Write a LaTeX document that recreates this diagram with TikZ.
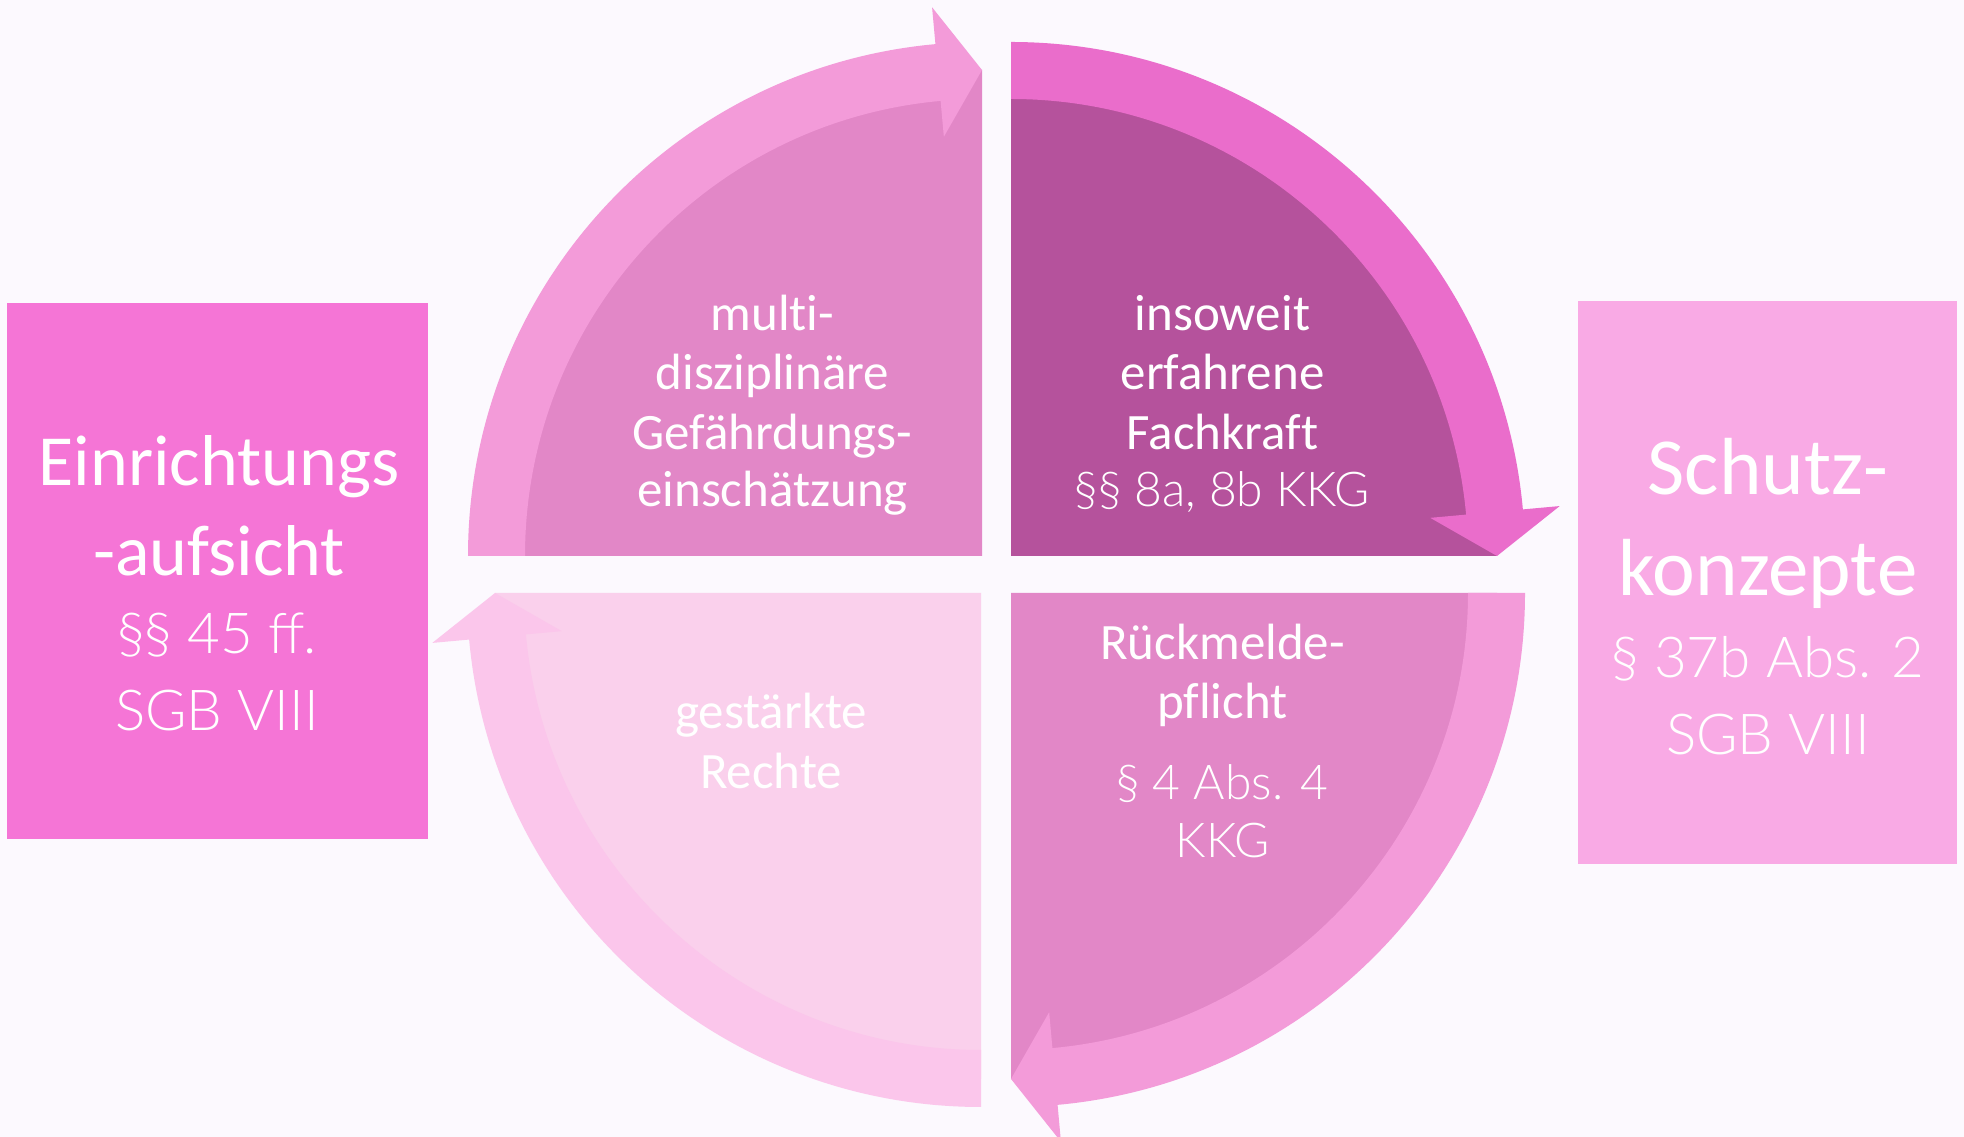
\documentclass[tikz,border=0pt]{standalone}
\usepackage{fontspec}
\setmainfont{Carlito}[Ligatures={NoCommon}]
\newfontfamily\lightfont{Lato Light}
\definecolor{bg}{HTML}{FCF9FE}
\definecolor{qA}{HTML}{E287C7}
\definecolor{arA}{HTML}{F39BD9}
\definecolor{qB}{HTML}{B5529C}
\definecolor{arB}{HTML}{EA6DCB}
\definecolor{qC}{HTML}{FAD0EC}
\definecolor{arC}{HTML}{FBC6EB}
\definecolor{boxL}{HTML}{F575D6}
\definecolor{boxR}{HTML}{F9AAE5}
\tikzset{
  txt/.style={text=white, inner sep=0pt, anchor=base},
  reg/.style={txt, font=\fontsize{51}{59}\selectfont},
  lgt/.style={txt, font=\lightfont\fontsize{48}{59}\selectfont},
  bigL/.style={txt, font=\fontsize{72}{90}\selectfont},
  bigR/.style={txt, font=\fontsize{81}{101}\selectfont},
  boxsub/.style={txt, font=\lightfont\fontsize{56.5}{77}\selectfont},
}
\begin{document}
\begin{tikzpicture}[x=1pt,y=1pt]
\useasboundingbox (0,0) rectangle (1964,1137);
\clip (0,0) rectangle (1964,1137);
\fill[bg] (0,0) rectangle (1964,1137);
% corners
\coordinate (c1) at (982,581);
\coordinate (c2) at (1011,581);
\coordinate (c3) at (981,544);
\coordinate (c4) at (1011,544);
% quadrants
\begin{scope}[shift={(c1)}]
  \fill[qA] (0,0) -- (180:486pt) arc[start angle=180,end angle=90,radius=486pt] -- cycle;
  \fill[arA] (180:514pt) arc[start angle=180,end angle=95.2,radius=514pt] -- (95.2:551pt) -- (90:486pt) -- (95.2:421pt) -- (95.2:457pt) arc[start angle=95.2,end angle=180,radius=457pt] -- cycle;
\end{scope}
\begin{scope}[shift={(c2)}]
  \fill[qB] (0,0) -- (90:486pt) arc[start angle=90,end angle=0,radius=486pt] -- cycle;
  \fill[arB] (90:514pt) arc[start angle=90,end angle=5.2,radius=514pt] -- (5.2:551pt) -- (0:486pt) -- (5.2:421pt) -- (5.2:457pt) arc[start angle=5.2,end angle=90,radius=457pt] -- cycle;
\end{scope}
\begin{scope}[shift={(c4)}]
  \fill[qA] (0,0) -- (0:486pt) arc[start angle=0,end angle=-90,radius=486pt] -- cycle;
  \fill[arA] (0:514pt) arc[start angle=0,end angle=-84.8,radius=514pt] -- (-84.8:551pt) -- (-90:486pt) -- (-84.8:421pt) -- (-84.8:457pt) arc[start angle=-84.8,end angle=0,radius=457pt] -- cycle;
\end{scope}
\begin{scope}[shift={(c3)}]
  \fill[qC] (0,0) -- (270:486pt) arc[start angle=270,end angle=180,radius=486pt] -- cycle;
  \fill[arC] (270:514pt) arc[start angle=270,end angle=185.2,radius=514pt] -- (185.2:551pt) -- (180:486pt) -- (185.2:421pt) -- (185.2:457pt) arc[start angle=185.2,end angle=270,radius=457pt] -- cycle;
\end{scope}
% side boxes
\fill[boxL] (7,298) rectangle (428,834);
\fill[boxR] (1578,273) rectangle (1957,836);
% texts TL
\node[reg] (tl1) at (772.5,806) {multi-};
\node[reg] (tl2) at (772.5,747) {disziplinäre};
\node[reg] (tl3) at (772.5,687.5) {Gefährdungs-};
\node[reg] (tl4) at (772.5,630) {einschätzung};
% TR
\node[reg] (tr1) at (1222.5,806) {insoweit};
\node[reg] (tr2) at (1222.5,747) {erfahrene};
\node[reg] (tr3) at (1222.5,687.5) {Fachkraft};
\node[lgt] (tr4) at (1222.5,630) {§§ 8a, 8b KKG};
% BL
\node[reg] (bl1) at (771,408) {gestärkte};
\node[reg] (bl2) at (771,348) {Rechte};
% BR
\node[reg] (br1) at (1222.5,477) {Rückmelde-};
\node[reg] (br2) at (1222.5,418) {pflicht};
\node[lgt] (br3) at (1222.5,337) {§ 4 Abs. 4};
\node[lgt] (br4) at (1222.5,279) {KKG};
% left box
\node[bigL] (l1) at (219,651) {Einrichtungs};
\node[bigL] (l2) at (219,561) {-aufsicht};
\node[boxsub] (l3) at (217,483) {§§ 45 ff.};
\node[boxsub] (l4) at (217,406) {SGB VIII};
% right box
\node[bigR] (r1) at (1768,642) {Schutz-};
\node[bigR] (r2) at (1768,541) {konzepte};
\node[boxsub] (r3) at (1768,459) {§ 37b Abs. 2};
\node[boxsub] (r4) at (1768,382) {SGB VIII};
\end{tikzpicture}
\end{document}
